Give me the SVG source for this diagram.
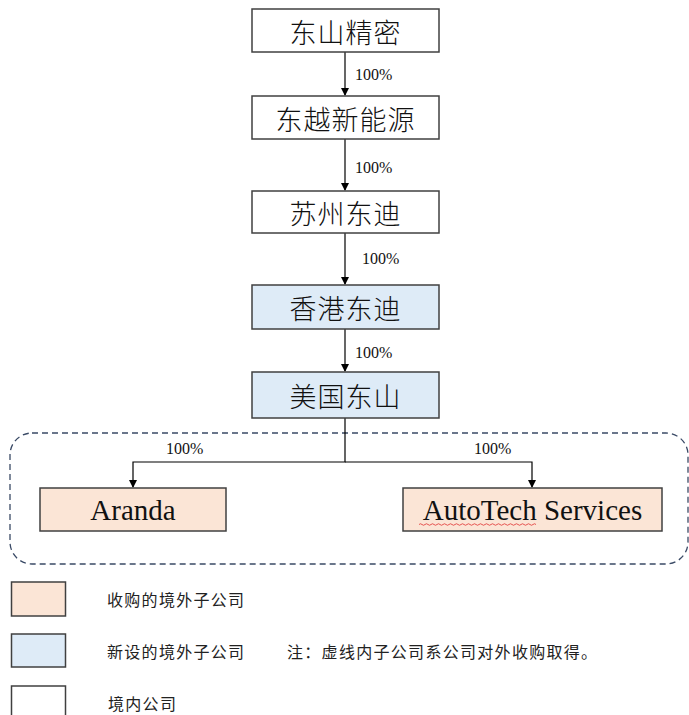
<svg xmlns="http://www.w3.org/2000/svg" width="689" height="715" viewBox="0 0 689 715">
<defs>
<marker id="arr" markerWidth="8" markerHeight="10" refX="7" refY="4" orient="auto" markerUnits="userSpaceOnUse" viewBox="0 0 8 8">
<path d="M0,0 L8,4 L0,8 Z" fill="#000"/>
</marker>
<style>
.box{stroke:#404040;stroke-width:1.5}
.dom{fill:#ffffff}
.new{fill:#deebf7}
.acq{fill:#fbe5d6}
.cn{font-family:"Noto Sans CJK SC","Noto Sans",sans-serif;font-size:27px;font-weight:300;fill:#111;text-anchor:middle;dominant-baseline:central;letter-spacing:1px}
.en{font-family:"Liberation Serif","Times New Roman",serif;font-size:29px;fill:#111;text-anchor:middle}
.pct{font-family:"Liberation Serif","Times New Roman",serif;font-size:16px;fill:#111}
.leg{font-family:"Noto Sans CJK SC","Noto Sans",sans-serif;font-size:16px;fill:#222;letter-spacing:1.3px;dominant-baseline:central}
.con{stroke:#000;stroke-width:1.2;fill:none}
</style>
</defs>
<rect x="0" y="0" width="689" height="715" fill="#ffffff"/>

<rect id="dashed-region" x="10" y="433" width="678" height="131" rx="22" fill="none" stroke="#3a4a66" stroke-width="1.3" stroke-dasharray="6 4"/>

<g id="connectors">
<line class="con" x1="345" y1="52" x2="345" y2="95" marker-end="url(#arr)"/>
<line class="con" x1="345" y1="139" x2="345" y2="190" marker-end="url(#arr)"/>
<line class="con" x1="345" y1="233" x2="345" y2="284" marker-end="url(#arr)"/>
<line class="con" x1="345" y1="329" x2="345" y2="371" marker-end="url(#arr)"/>
<polyline class="con" points="345,418 345,462 133,462 133,487" marker-end="url(#arr)"/>
<polyline class="con" points="345,462 532,462 532,487" marker-end="url(#arr)"/>
<text class="pct" x="355" y="80">100%</text>
<text class="pct" x="355" y="173">100%</text>
<text class="pct" x="362" y="264">100%</text>
<text class="pct" x="355" y="358">100%</text>
<text class="pct" x="166" y="454">100%</text>
<text class="pct" x="474" y="454">100%</text>
</g>

<g id="n1"><rect class="box dom" x="252" y="9" width="187" height="43"/><text class="cn" x="345.5" y="31">东山精密</text></g>
<g id="n2"><rect class="box dom" x="252" y="96" width="187" height="43"/><text class="cn" x="345.5" y="118">东越新能源</text></g>
<g id="n3"><rect class="box dom" x="252" y="191" width="187" height="42"/><text class="cn" x="345.5" y="212.5">苏州东迪</text></g>
<g id="n4"><rect class="box new" x="252" y="285" width="187" height="44"/><text class="cn" x="345.5" y="307.5">香港东迪</text></g>
<g id="n5"><rect class="box new" x="252" y="372" width="187" height="46"/><text class="cn" x="345.5" y="395.5">美国东山</text></g>
<g id="n6"><rect class="box acq" x="40" y="488" width="186" height="43"/><text class="en" x="133" y="520">Aranda</text></g>
<g id="n7"><rect class="box acq" x="403" y="488" width="259" height="43"/><text class="en" x="532.5" y="520">AutoTech Services</text>
<path d="M419,524.5 q1.5,-1.5 3,0 t3,0 t3,0 t3,0 t3,0 t3,0 t3,0 t3,0 t3,0 t3,0 t3,0 t3,0 t3,0 t3,0 t3,0 t3,0 t3,0 t3,0 t3,0 t3,0 t3,0 t3,0 t3,0 t3,0 t3,0 t3,0 t3,0 t3,0 t3,0 t3,0 t3,0 t3,0 t3,0 t3,0 t3,0 t3,0 t3,0 t3,0 t3,0" fill="none" stroke="#e03030" stroke-width="0.8"/>
</g>

<g id="legend">
<rect class="box acq" x="11.5" y="582" width="54" height="34"/>
<text class="leg" x="107" y="598.5">收购的境外子公司</text>
<rect class="box new" x="11.5" y="634" width="54" height="33"/>
<text class="leg" x="107" y="651">新设的境外子公司</text>
<text class="leg" x="287" y="651">注：虚线内子公司系公司对外收购取得。</text>
<rect class="box dom" x="11.5" y="686" width="54" height="40"/>
<text class="leg" x="108" y="703">境内公司</text>
</g>
</svg>
